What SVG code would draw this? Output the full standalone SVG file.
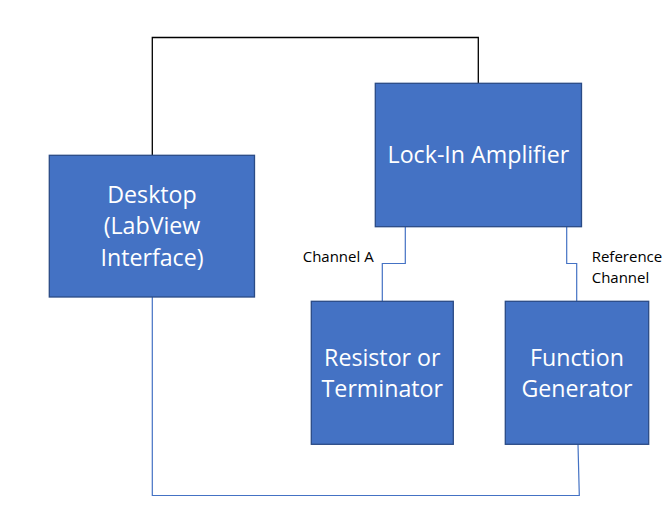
<svg xmlns="http://www.w3.org/2000/svg" width="665" height="511" viewBox="0 0 665 511">
<style>
.box{fill:#4472C4;stroke:#2A4B86;stroke-width:1.3}
.t{font-family:"Open Sans","Noto Sans","DejaVu Sans",sans-serif;font-size:23.2px;fill:#FFFFFF;text-anchor:middle}
.lbl{font-family:"Open Sans","Noto Sans","DejaVu Sans",sans-serif;font-size:15px;fill:#000000}
.blue{fill:none;stroke:#4472C4;stroke-width:1.2}
.black{fill:none;stroke:#000000;stroke-width:1.3}
</style>
<rect width="665" height="511" fill="#FFFFFF"/>
<g id="connectors">
<polyline class="black" points="152.3,155.3 152.3,37.5 478.3,37.5 478.3,83.3"/>
<polyline class="blue" points="405.3,226.7 405.3,263.5 382.3,263.5 382.3,301.3"/>
<polyline class="blue" points="566.7,226.7 566.7,263.5 576.7,263.5 576.7,301.3"/>
<polyline class="blue" points="152.3,297 152.3,495.5 579.3,495.5 578,444.3"/>
</g>
<g id="desktop">
<rect class="box" x="49.3" y="155.3" width="205.2" height="141.7"/>
<text class="t" x="152" y="202.7">Desktop</text>
<text class="t" x="152" y="234.2">(LabView</text>
<text class="t" x="152" y="265.7">Interface)</text>
</g>
<g id="lockin">
<rect class="box" x="375.3" y="83.3" width="206.2" height="143.4"/>
<text class="t" x="478.4" y="163">Lock-In Amplifier</text>
</g>
<g id="resistor">
<rect class="box" x="311.3" y="301.3" width="142" height="143"/>
<text class="t" x="382.3" y="366">Resistor or</text>
<text class="t" x="382.3" y="397.3">Terminator</text>
</g>
<g id="funcgen">
<rect class="box" x="505.3" y="301.3" width="143.4" height="143"/>
<text class="t" x="577" y="366">Function</text>
<text class="t" x="577" y="397.3">Generator</text>
</g>
<g id="labels">
<text class="lbl" x="302.7" y="262.3">Channel A</text>
<text class="lbl" x="591.7" y="262.3">Reference</text>
<text class="lbl" x="591.7" y="282.7">Channel</text>
</g>
</svg>
